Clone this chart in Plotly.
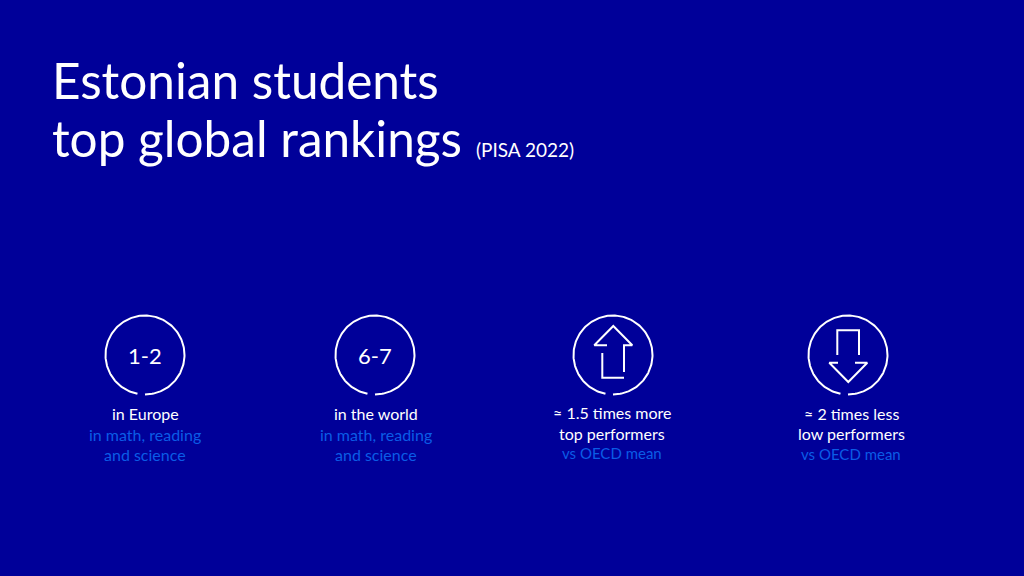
import numpy as np
import plotly.graph_objects as go

BG = "#000099"
WHITE = "#ffffff"
BLUE = "#0b5ce6"
FONT = "Lato"

title_lines = ["Estonian students", "top global rankings"]
title_note = "(PISA 2022)"
circle_x = [145, 375, 613, 848]
circle_y = [355, 355, 355, 355]
circle_labels = ["1-2", "6-7", "", ""]
captions = [
    [("in Europe", WHITE), ("in math, reading", BLUE), ("and science", BLUE)],
    [("in the world", WHITE), ("in math, reading", BLUE), ("and science", BLUE)],
    [("≈ 1.5 times more", WHITE), ("top performers", WHITE), ("vs OECD mean", BLUE)],
    [("≈ 2 times less", WHITE), ("low performers", WHITE), ("vs OECD mean", BLUE)],
]
caption_x = [145, 376, 612, 851]
caption_y = [[413, 434, 454], [413, 434, 454], [412, 433, 453], [413, 433.5, 454]]
up_x = [602.3, 602.3, 624, None, 607, 594.3, 613.3, 632.3, 624, 624]
up_y = [353, 377.7, 377.7, None, 345.3, 345.3, 326, 345.3, 345.3, 372]
down_x = [837.3, 837.3, 859, 859, None, 838, 829.3, 848.3, 867.3, 855]
down_y = [355, 330.3, 330.3, 355, None, 362.7, 362.7, 382, 362.7, 362.7]

fig = go.Figure()
R = 39.5
for cx, cy in zip(circle_x, circle_y):
    a = np.radians(np.linspace(101, 450, 200))
    fig.add_trace(go.Scatter(x=cx + R * np.cos(a), y=cy + R * np.sin(a), mode="lines",
                             line=dict(color=WHITE, width=2), hoverinfo="skip"))

fig.add_trace(go.Scatter(x=up_x, y=up_y, mode="lines",
                         line=dict(color=WHITE, width=2), hoverinfo="skip"))
fig.add_trace(go.Scatter(x=down_x, y=down_y, mode="lines",
                         line=dict(color=WHITE, width=2), hoverinfo="skip"))

ann = [
    dict(x=50, y=80, text=title_lines[0], font=dict(size=49.5, color=WHITE)),
    dict(x=50, y=138, text=title_lines[1], font=dict(size=49.5, color=WHITE)),
    dict(x=474, y=149, text=title_note, font=dict(size=19, color=WHITE)),
]
for cx, cy, t in zip(circle_x, circle_y, circle_labels):
    if t:
        ann.append(dict(x=cx, y=cy, text=t, xanchor="center", font=dict(size=22, color=WHITE)))
for cx, ys, rows in zip(caption_x, caption_y, captions):
    for y, (t, c) in zip(ys, rows):
        size = 15 if t.startswith("vs") else 16
        ann.append(dict(x=cx, y=y, text=t, xanchor="center", font=dict(size=size, color=c)))
for a in ann:
    a.setdefault("xanchor", "left")
    a.update(xref="x", yref="y", yanchor="middle", showarrow=False)
    a["font"]["family"] = FONT

fig.update_layout(
    width=1024, height=576, margin=dict(l=0, r=0, t=0, b=0),
    paper_bgcolor=BG, plot_bgcolor=BG, showlegend=False, annotations=ann,
    xaxis=dict(range=[0, 1024], visible=False, fixedrange=True),
    yaxis=dict(range=[576, 0], visible=False, fixedrange=True),
)
fig.write_html("out.html", config=dict(displayModeBar=False),
               post_script="document.body.style.margin='0';document.body.style.background='#000099';document.documentElement.style.overflow='hidden';")
